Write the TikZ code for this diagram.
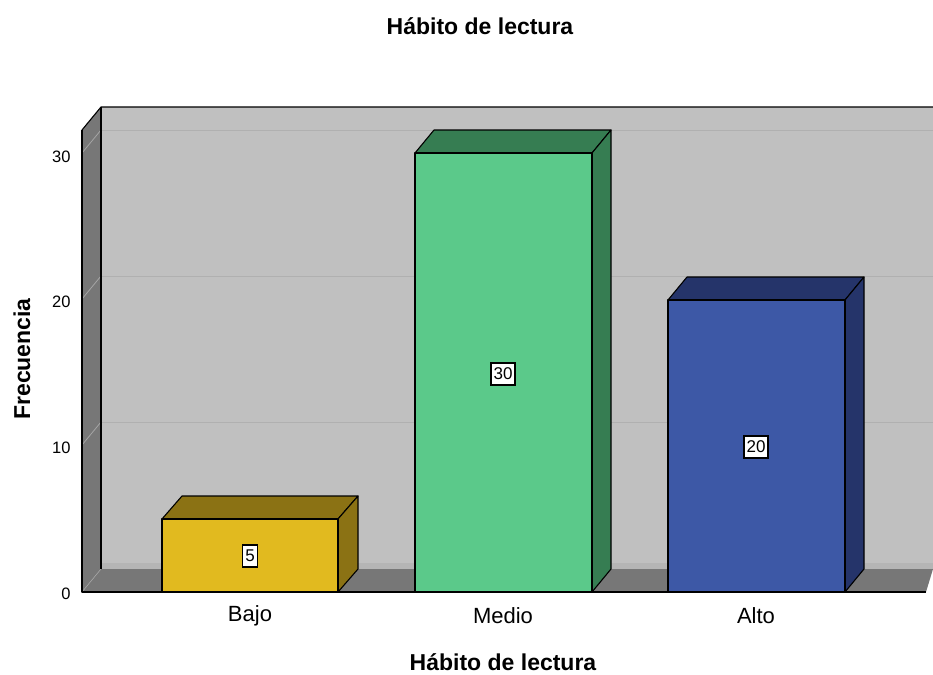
\documentclass[tikz,border=0pt]{standalone}
\usepackage{fontspec}
\setmainfont{Liberation Sans}
\begin{document}
\begin{tikzpicture}[x=1pt,y=-1pt,
  edge/.style={draw=black,line width=1.1pt,line join=round},
  grid/.style={draw=gridgray,line width=1pt},
  vlabel/.style={draw=black,fill=white,line width=1.3pt,inner xsep=2.5pt,inner ysep=5pt,font=\fontsize{17}{17}\selectfont},
  tick/.style={anchor=east,font=\fontsize{16.5}{16.5}\selectfont},
  cat/.style={font=\fontsize{22}{22}\selectfont},
  axtitle/.style={inner sep=0pt,font=\bfseries\fontsize{23}{23}\selectfont}]
\definecolor{wallgray}{HTML}{777777}
\definecolor{backgray}{HTML}{C0C0C0}
\definecolor{gridgray}{HTML}{B0B0B0}
\definecolor{yfront}{HTML}{E1BA1F}
\definecolor{yside}{HTML}{8B7214}
\definecolor{gfront}{HTML}{5BC98A}
\definecolor{gside}{HTML}{367D52}
\definecolor{bfront}{HTML}{3D58A6}
\definecolor{bside}{HTML}{25346A}
\useasboundingbox (0,0) rectangle (933,674);
% back wall
\fill[backgray] (101,107) rectangle (933,569);
\fill[gridgray!70!backgray] (101,563) rectangle (933,569);
% grid lines on back wall
\draw[grid] (101,130) -- (933,130);
\draw[grid] (101,276) -- (933,276);
\draw[grid] (101,422) -- (933,422);
% left wall
\fill[wallgray] (82,130) -- (101,107) -- (101,569) -- (82,592) -- cycle;
\draw[draw=gridgray!80!wallgray,line width=0.8pt] (82,153) -- (101,130);
\draw[draw=gridgray!80!wallgray,line width=0.8pt] (82,299) -- (101,276);
\draw[draw=gridgray!80!wallgray,line width=0.8pt] (82,445) -- (101,422);
% floor
\fill[wallgray] (82,592) -- (101,569) -- (933,569) -- (926,592) -- cycle;
\draw[draw=gridgray!80!wallgray,line width=0.6pt] (82,592) -- (101,569);
% outlines
\draw[edge] (82,130) -- (101,107) -- (933,107);
\draw[edge] (101,107) -- (101,569);
\draw[edge] (82,130) -- (82,592) -- (926,592);
% Bajo
\filldraw[edge,fill=yside] (162,519) -- (182,496) -- (358,496) -- (338,519) -- cycle;
\filldraw[edge,fill=yside] (338,519) -- (358,496) -- (358,569) -- (338,592) -- cycle;
\filldraw[edge,fill=yfront] (162,519) rectangle (338,592);
% Medio
\filldraw[edge,fill=gside] (415,153) -- (434,130) -- (611,130) -- (592,153) -- cycle;
\filldraw[edge,fill=gside] (592,153) -- (611,130) -- (611,569) -- (592,592) -- cycle;
\filldraw[edge,fill=gfront] (415,153) rectangle (592,592);
% Alto
\filldraw[edge,fill=bside] (668,300) -- (687,277) -- (864,277) -- (845,300) -- cycle;
\filldraw[edge,fill=bside] (845,300) -- (864,277) -- (864,569) -- (845,592) -- cycle;
\filldraw[edge,fill=bfront] (668,300) rectangle (845,592);
\draw[edge] (82,592) -- (926,592);
% value labels
\node[vlabel] (v1) at (250,556) {5};
\node[vlabel] (v2) at (503,374) {30};
\node[vlabel] (v3) at (756,447) {20};
% ticks
\node[tick] (t0) at (74,594) {0};
\node[tick] (t1) at (74,448) {10};
\node[tick] (t2) at (74,302) {20};
\node[tick] (t3) at (74,157) {30};
% categories
\node[cat] (c1) at (250,616) {Bajo};
\node[cat] (c2) at (503,616) {Medio};
\node[cat] (c3) at (756,616) {Alto};
% titles
\node[axtitle] (title) at (480,26) {Hábito de lectura};
\node[axtitle] (xt) at (503,662) {Hábito de lectura};
\node[axtitle,rotate=90] (yt) at (22,359) {Frecuencia};
\end{tikzpicture}
\end{document}
